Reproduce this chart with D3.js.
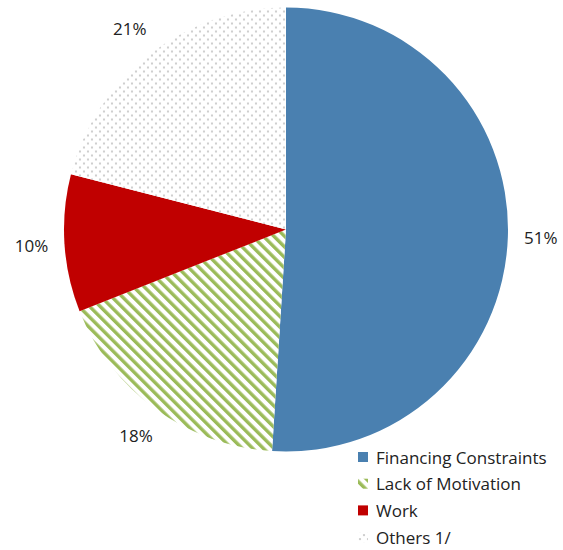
<!DOCTYPE html>
<html><head><meta charset="utf-8">
<script src="https://cdn.jsdelivr.net/npm/d3@7"></script>
<style>body{margin:0;background:#fff}svg{display:block}text{font-family:"Open Sans","Noto Sans",sans-serif;fill:#222}</style>
</head><body><svg id="c" width="563" height="550"></svg>
<script>
const categories = ["Financing Constraints", "Lack of Motivation", "Work", "Others 1/"];
const values = [51, 18, 10, 21];
const labels = ["51%", "18%", "10%", "21%"];

const svg = d3.select("#c");
const defs = svg.append("defs");
const stripes = defs.append("pattern").attr("id","stripes").attr("patternUnits","userSpaceOnUse")
  .attr("width",7.5).attr("height",7.5).attr("patternTransform","rotate(-45)");
stripes.append("rect").attr("width",7.5).attr("height",7.5).attr("fill","#fff");
stripes.append("rect").attr("x",0).attr("width",3.4).attr("height",7.5).attr("fill","#9bbb59");
const dots = defs.append("pattern").attr("id","dots").attr("patternUnits","userSpaceOnUse")
  .attr("width",8).attr("height",8);
dots.append("rect").attr("width",8).attr("height",8).attr("fill","#fff");
dots.append("circle").attr("cx",2).attr("cy",2).attr("r",1.1).attr("fill","#c4c4c4");
dots.append("circle").attr("cx",6).attr("cy",6).attr("r",1.1).attr("fill","#c4c4c4");

const fills = ["#4a80b0", "url(#stripes)", "#c00000", "url(#dots)"];
const color = d3.scaleOrdinal().domain(categories).range(fills);

const cx = 286, cy = 229.5, r = 222;
const pie = d3.pie().sort(null).value(d => d.v);
const data = pie(categories.map((c,i)=>({c, v:values[i], l:labels[i]})));
const arc = d3.arc().innerRadius(0).outerRadius(r);
const labelArc = d3.arc().innerRadius(255).outerRadius(255);
const g = svg.append("g").attr("transform",`translate(${cx},${cy})`);
g.selectAll("path").data(data).join("path").attr("d",arc).attr("fill",d=>color(d.data.c));
g.selectAll("text").data(data).join("text")
  .attr("transform",d=>`translate(${labelArc.centroid(d)})`)
  .attr("text-anchor","middle").attr("dominant-baseline","central")
  .attr("font-size",17).text(d=>d.data.l);

const lg = svg.append("g").attr("transform","translate(358,457)");
const rows = lg.selectAll("g").data(categories).join("g").attr("transform",(d,i)=>`translate(0,${i*26.7})`);
rows.append("rect").attr("x",0).attr("y",-5).attr("width",10).attr("height",10).attr("fill",d=>color(d));
rows.append("text").attr("x",18).attr("dominant-baseline","central").attr("font-size",17).text(d=>d);
</script></body></html>
